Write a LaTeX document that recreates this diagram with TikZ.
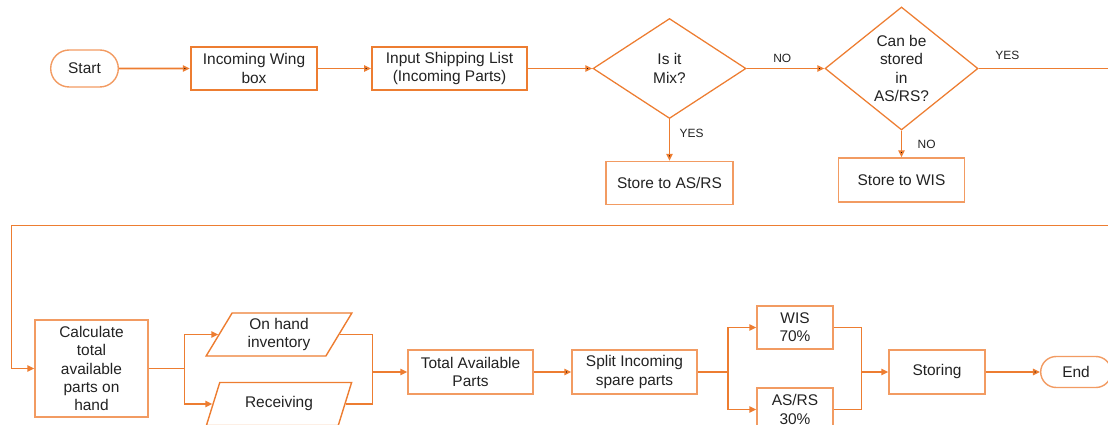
\documentclass[tikz,border=0pt]{standalone}
\usepackage{fontspec}
\setmainfont{Liberation Sans}
\usetikzlibrary{arrows.meta,shapes.geometric,shapes.misc}
\definecolor{flow}{HTML}{ED7D31}
\definecolor{flowlight}{HTML}{F29B62}
\definecolor{ink}{HTML}{222222}

\begin{document}
\begin{tikzpicture}[>={Triangle[length=5pt,width=4.5pt]},
  every node/.style={font=\fontsize{11}{13}\selectfont,text=ink,align=center},
  main node/.style={rectangle,draw=flow,line width=1.6pt,minimum height=1.075cm,inner sep=2pt},
  light node/.style={main node,draw=flowlight,line width=1pt},
  end node/.style={rounded rectangle,draw=flowlight,line width=1pt},
  dec node/.style={diamond,draw=flow,line width=0.9pt,inner sep=0pt},
  io node/.style={trapezium,trapezium left angle=62,trapezium right angle=118,
    trapezium stretches=true,draw=flow,line width=1pt,minimum width=3.65cm,
    minimum height=1.075cm,inner sep=0pt},
  lbl/.style={font=\fontsize{8.5}{10}\selectfont,inner sep=1pt},
  conn/.style={draw=flow,line width=1.1pt}]

  \useasboundingbox (0,0) rectangle (27.7,-10.625);
  \clip (0,0) rectangle (27.7,-10.625);

  % top row
  \node[end node,minimum width=1.925cm,minimum height=0.925cm] (1) at (2.1125,-1.7125) {Start};
  \node[main node,minimum width=3.15cm] (2) [right of=1,node distance=4.2375cm] {Incoming Wing\\box};
  \node[main node,minimum width=3.8625cm] (3) [right of=2,node distance=4.8875cm] {Input Shipping List\\(Incoming Parts)};
  \node[dec node,minimum width=3.825cm,minimum height=2.5cm] (4) [right of=3,node distance=5.5cm] {Is it\\Mix?};
  \node[dec node,minimum width=3.825cm,minimum height=3.075cm] (5) [right of=4,node distance=5.8cm] {Can be\\stored\\in\\AS/RS?};
  \node[light node,minimum width=3.175cm] (6) [below of=4,node distance=2.8625cm] {Store to AS/RS};
  \node[light node,minimum width=3.15cm,minimum height=1.1cm] (7) [below of=5,node distance=2.7875cm] {Store to WIS};

  % bottom row
  \node[light node,minimum width=2.825cm,minimum height=2.425cm] (8) [below of=1,node distance=7.5cm,xshift=0.175cm] {Calculate\\total\\available\\parts on\\hand};
  \node[io node] (9) [right of=8,node distance=4.6875cm,yshift=0.85cm] {On hand\\inventory};
  \node[io node] (10) [right of=8,node distance=4.6875cm,yshift=-0.8875cm] {Receiving};
  \node[light node,minimum width=3.125cm,minimum height=1.1cm] (11) [right of=8,node distance=9.475cm,yshift=-0.0875cm] {Total Available\\Parts};
  \node[light node,minimum width=3.125cm,minimum height=1.1cm] (12) [right of=11,node distance=4.1cm] {Split Incoming\\spare parts};
  \node[light node,minimum width=1.9cm] (13) [right of=12,node distance=4.0125cm,yshift=1.1125cm] {WIS\\70\%};
  \node[light node,minimum width=1.9cm] (14) [right of=12,node distance=4.0125cm,yshift=-0.9375cm] {AS/RS\\30\%};
  \node[light node,minimum width=2.4cm,minimum height=1.1cm] (15) [right of=12,node distance=7.5625cm] {Storing};
  \node[end node,minimum width=2cm,minimum height=0.775cm] (16) [right of=15,node distance=3.475cm] {End};

  \path (5.east) ++(4.5cm,0) coordinate (r1);
  \coordinate (l1) at (0.2925,-5.6425);
  \path (8.east) ++(0.9cm,0) coordinate (b1);
  \path (11.west) ++(-0.875cm,0) coordinate (m1);
  \path (12.east) ++(0.7625cm,0) coordinate (b2);
  \path (15.west) ++(-0.675cm,0) coordinate (m2);

  \path[conn,->]
    (1) edge (2)
    (2) edge (3)
    (3) edge (4)
    (4) edge node[lbl,above=0.1cm,xshift=-0.08cm] {NO} (5)
        edge node[lbl,right,pos=0.35,xshift=0.2cm] {YES} (6)
    (5) edge node[lbl,right,pos=0.5,xshift=0.35cm] {NO} (7)
    (11) edge (12)
    (15) edge (16);

  \draw[conn,->] (5) -- (r1) node[lbl,above=0.18cm,pos=0.16] {YES} |- (l1) |- (8);

  \draw[conn] (8) -- (b1);
  \draw[conn,->] (b1) |- (9);
  \draw[conn,->] (b1) |- (10);
  \draw[conn] (9) -| (m1);
  \draw[conn] (10) -| (m1);
  \draw[conn,->] (m1) -- (11);

  \draw[conn] (12) -- (b2);
  \draw[conn,->] (b2) |- (13);
  \draw[conn,->] (b2) |- (14);
  \draw[conn] (13) -| (m2);
  \draw[conn] (14) -| (m2);
  \draw[conn,->] (m2) -- (15);
\end{tikzpicture}
\end{document}
